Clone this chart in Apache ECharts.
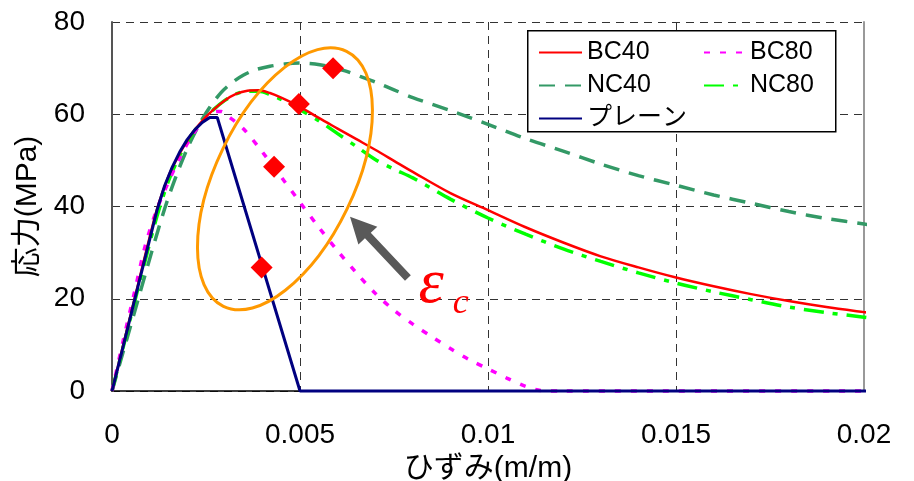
<!DOCTYPE html>
<html>
<head>
<meta charset="utf-8">
<script src="https://cdn.jsdelivr.net/npm/echarts@6/dist/echarts.min.js"></script>
</head>
<body style="margin:0; background:#fff">
<div id="main" style="width:914px; height:481px"></div>
<script>
// 応力-ひずみ曲線 [strain, stress(MPa)]
var bc40 = [[0,0],[0.0003,10],[0.0006,20],[0.0009,30],[0.0012,39.5],[0.0015,46.5],[0.0018,51.5],[0.0021,55.5],[0.0024,58.6],[0.0027,61],[0.003,63],[0.0033,64.4],[0.0036,65.1],[0.0039,65.2],[0.0042,64.6],[0.0045,63.6],[0.005,61.6],[0.0055,59.2],[0.006,56.9],[0.0065,54.6],[0.007,52.3],[0.0075,49.9],[0.008,47.5],[0.009,42.9],[0.01,39.2],[0.011,35.5],[0.012,32.2],[0.013,29.2],[0.014,26.8],[0.015,24.6],[0.016,22.7],[0.017,21],[0.018,19.5],[0.019,18.2],[0.02,17.1],[0.0203,16.8]];
var bc80 = [[0,0],[0.0003,11],[0.0006,21.5],[0.0009,32],[0.0012,39.5],[0.0015,45.3],[0.0018,50.5],[0.0021,55],[0.0024,58.3],[0.0027,60.5],[0.0029,60.6],[0.0031,59.5],[0.0035,56.8],[0.004,51.8],[0.0045,46.4],[0.005,40.9],[0.0055,35.5],[0.006,30.4],[0.0065,25.6],[0.007,21.2],[0.0075,17.5],[0.008,14.5],[0.0085,11.8],[0.009,9.2],[0.0095,6.8],[0.01,4.8],[0.0105,2.8],[0.011,1],[0.0114,0.1],[0.012,0],[0.0203,0]];
var nc40 = [[0,0],[0.00035,10],[0.0007,20],[0.00105,30],[0.0014,39.5],[0.0017,46.5],[0.002,52.5],[0.0023,57.5],[0.0026,61.5],[0.0029,64.7],[0.0032,66.9],[0.0035,68.5],[0.0038,69.6],[0.0042,70.4],[0.0046,70.9],[0.005,71.1],[0.0054,70.9],[0.0058,70.3],[0.0062,69.4],[0.0066,68.2],[0.007,67],[0.0075,65.3],[0.008,63.6],[0.009,60.8],[0.01,57.8],[0.011,54.7],[0.012,52],[0.013,49.2],[0.014,46.7],[0.015,44.6],[0.016,42.5],[0.017,40.7],[0.018,38.9],[0.019,37.4],[0.02,36.2],[0.0203,35.8]];
var nc80 = [[0,0],[0.0003,9.6],[0.0006,19.3],[0.0009,28.8],[0.0012,38],[0.0015,45.5],[0.0018,51],[0.0021,55.3],[0.0024,58.5],[0.0027,61],[0.003,63],[0.0033,64.4],[0.0036,65],[0.0039,65],[0.0042,64.3],[0.0045,63.2],[0.005,61],[0.0055,58.6],[0.006,55.8],[0.0065,53],[0.007,50.2],[0.0075,48.1],[0.008,46.2],[0.009,41.6],[0.01,37.5],[0.011,34],[0.012,30.8],[0.013,28.1],[0.014,25.6],[0.015,23.4],[0.016,21.5],[0.017,19.8],[0.018,18.2],[0.019,17],[0.02,16],[0.0203,15.7]];
var plain = [[0,0],[0.0003,9.8],[0.0006,19.7],[0.0009,29.5],[0.0012,39.3],[0.0014,44.5],[0.0016,48.5],[0.0018,51.8],[0.002,54.5],[0.0022,56.6],[0.0024,58.2],[0.0026,59.3],[0.0028,59.3],[0.005,0],[0.0203,0]];
// εc 点
var epsC = [[0.00398,26.8],[0.00431,48.6],[0.00497,62.2],[0.00588,70]];

var xTicks = {min: 0, max: 0.02, interval: 0.005};
var yTicks = {min: 0, max: 80, interval: 20};

var chartDom = document.getElementById("main");
var myChart = echarts.init(chartDom);
var gridDash = {color: "#333", type: [8, 6], width: 1};
var numFont = "Liberation Sans, Arial, sans-serif";
var jpFont = "Liberation Sans, Noto Sans CJK JP, sans-serif";

function lineSeries(name, data, color, width, type, smooth) {
  return {
    name: name, type: "line", data: data, symbol: "none", clip: false,
    smooth: smooth, color: color,
    lineStyle: {color: color, width: width, type: type},
  };
}

var option = {
  animation: false,
  backgroundColor: "#fff",
  grid: {left: 112, right: 50, top: 22, bottom: 90, outerBoundsMode: "none", containLabel: false},
  xAxis: {
    type: "value", min: xTicks.min, max: xTicks.max, interval: xTicks.interval,
    name: "ひずみ(m/m)", nameLocation: "middle", nameGap: 52,
    nameTextStyle: {fontSize: 30, color: "#000", fontFamily: jpFont},
    axisLine: {lineStyle: {color: "#000", width: 1.5}},
    axisTick: {show: false},
    axisLabel: {fontSize: 28, color: "#000", margin: 30, fontFamily: numFont},
    splitLine: {show: true, lineStyle: gridDash},
  },
  yAxis: [{
    type: "value", min: yTicks.min, max: yTicks.max, interval: yTicks.interval,
    name: "応力(MPa)", nameLocation: "middle", nameGap: 60,
    nameTextStyle: {fontSize: 30, color: "#000", fontFamily: jpFont},
    axisLine: {show: true, lineStyle: {color: "#555", width: 2}},
    axisTick: {show: false},
    axisLabel: {fontSize: 28, color: "#000", margin: 27, fontFamily: numFont},
    splitLine: {show: true, lineStyle: gridDash},
  }, {
    type: "value", min: yTicks.min, max: yTicks.max, position: "right",
    axisLine: {show: true, lineStyle: {color: "#999", width: 2}},
    axisTick: {show: false}, axisLabel: {show: false}, splitLine: {show: false},
  }],
  legend: [{
    orient: "vertical", left: 533, top: 31, itemGap: 0,
    itemWidth: 43, itemHeight: 20, itemStyle: {opacity: 0},
    textStyle: {fontSize: 25, lineHeight: 33, color: "#000", fontFamily: jpFont},
    data: ["BC40", "NC40", "プレーン"],
  }, {
    orient: "vertical", left: 698, top: 31, itemGap: 0,
    itemWidth: 41, itemHeight: 20, itemStyle: {opacity: 0},
    textStyle: {fontSize: 25, lineHeight: 33, color: "#000", fontFamily: jpFont},
    data: ["BC80", "NC80"],
  }],
  series: [
    lineSeries("NC40", nc40, "#339966", 3.5, [16, 10], 0.3),
    lineSeries("NC80", nc80, "#00ff00", 3.5, [20, 9, 5, 9], 0.3),
    lineSeries("BC80", bc80, "#ff00ff", 3.5, [6, 10], 0.3),
    lineSeries("BC40", bc40, "#ff0000", 2.5, "solid", 0.3),
    lineSeries("プレーン", plain, "#000080", 3, "solid", false),
    {
      name: "εc", type: "scatter", data: epsC, symbol: "diamond", symbolSize: 22,
      itemStyle: {color: "#ff0000", opacity: 1}, z: 5, clip: false,
    },
  ],
};
option && myChart.setOption(option);

// 注記 (楕円・矢印・εc)
var ellipseCenter = [0.0046, 46.0];
var arrowTip = [0.00633, 37.8];
var arrowTail = [0.00787, 24.5];
var epsPos = [0.00815, 23.0];
var subPos = [0.00906, 19.0];

function px(p) { return myChart.convertToPixel({gridIndex: 0}, p); }
var c = px(ellipseCenter), t = px(arrowTip), s = px(arrowTail);
var dx = t[0] - s[0], dy = t[1] - s[1], len = Math.sqrt(dx * dx + dy * dy);
var ux = dx / len, uy = dy / len, nx = -uy, ny = ux;
var bx = t[0] - ux * 26, by = t[1] - uy * 26;
var arrowPts = [
  [s[0] + nx * 4, s[1] + ny * 4], [bx + nx * 4, by + ny * 4], [bx + nx * 13, by + ny * 13],
  [t[0], t[1]], [bx - nx * 13, by - ny * 13], [bx - nx * 4, by - ny * 4], [s[0] - nx * 4, s[1] - ny * 4]
];
var e = px(epsPos), sb = px(subPos);

myChart.setOption({
  graphic: [
    // 凡例の枠
    {type: "rect", left: 527, top: 30, z: 3, shape: {width: 308, height: 101},
      style: {fill: "#fff", stroke: "#000", lineWidth: 1.5}},
    {type: "ellipse", x: c[0], y: c[1], rotation: -0.45, z: 6,
      shape: {cx: 0, cy: 0, rx: 69, ry: 141.6},
      style: {fill: "none", stroke: "#ff9900", lineWidth: 3}},
    {type: "polygon", z: 6, shape: {points: arrowPts}, style: {fill: "#595959"}},
    {type: "text", x: e[0], y: e[1], z: 6,
      style: {text: "ε", fill: "#ff0000", font: "italic 64px Liberation Serif", textAlign: "left", textVerticalAlign: "middle"}},
    {type: "text", x: sb[0], y: sb[1], z: 6,
      style: {text: "c", fill: "#ff0000", font: "italic 36px Liberation Serif", textAlign: "left", textVerticalAlign: "middle"}},
  ],
});
</script>
</body>
</html>
